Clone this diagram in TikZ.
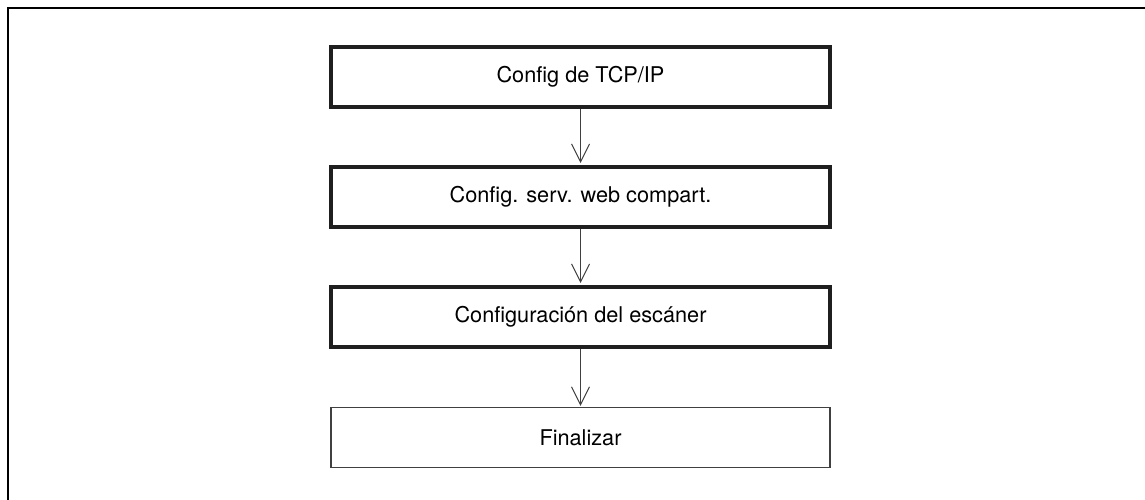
\documentclass[tikz,border=0pt]{standalone}
\usepackage{fontspec}
\setmainfont{TeX Gyre Heros}
\usetikzlibrary{arrows.meta}
\tikzset{
  stepbox/.style={draw=black!88, line width=4pt, minimum width=499pt, minimum height=60pt,
    inner sep=0pt, font=\fontsize{21.7pt}{26pt}\selectfont, text=black},
  endbox/.style={stepbox, line width=1.6pt, draw=black!75},
  flow/.style={draw=black!75, line width=1pt, -{Straight Barb[length=18pt,width=18pt,line width=1pt]}},
  frameline/.style={draw=black, line width=2.5pt}
}
\begin{document}
\begin{tikzpicture}[x=1pt,y=-1pt]
\useasboundingbox (0,0) rectangle (1145,500);
\coordinate (fbl) at (8,501);
\coordinate (ftl) at (8,8);
\coordinate (ftr) at (1146,8);
\draw[frameline] (fbl) -- (ftl) -- (ftr);
\node[stepbox] (b1) at (580.5,77) {Config de TCP/IP};
\node[stepbox] (b2) at (580.5,197) {Config. serv. web compart.};
\node[stepbox] (b3) at (580.5,317) {Configuración del escáner};
\node[endbox] (b4) at (580.5,437.5) {Finalizar};
\draw[flow] (b1.south) -- ([yshift=2pt]b2.north);
\draw[flow] (b2.south) -- ([yshift=2pt]b3.north);
\draw[flow] (b3.south) -- ([yshift=0.8pt]b4.north);
\end{tikzpicture}
\end{document}
